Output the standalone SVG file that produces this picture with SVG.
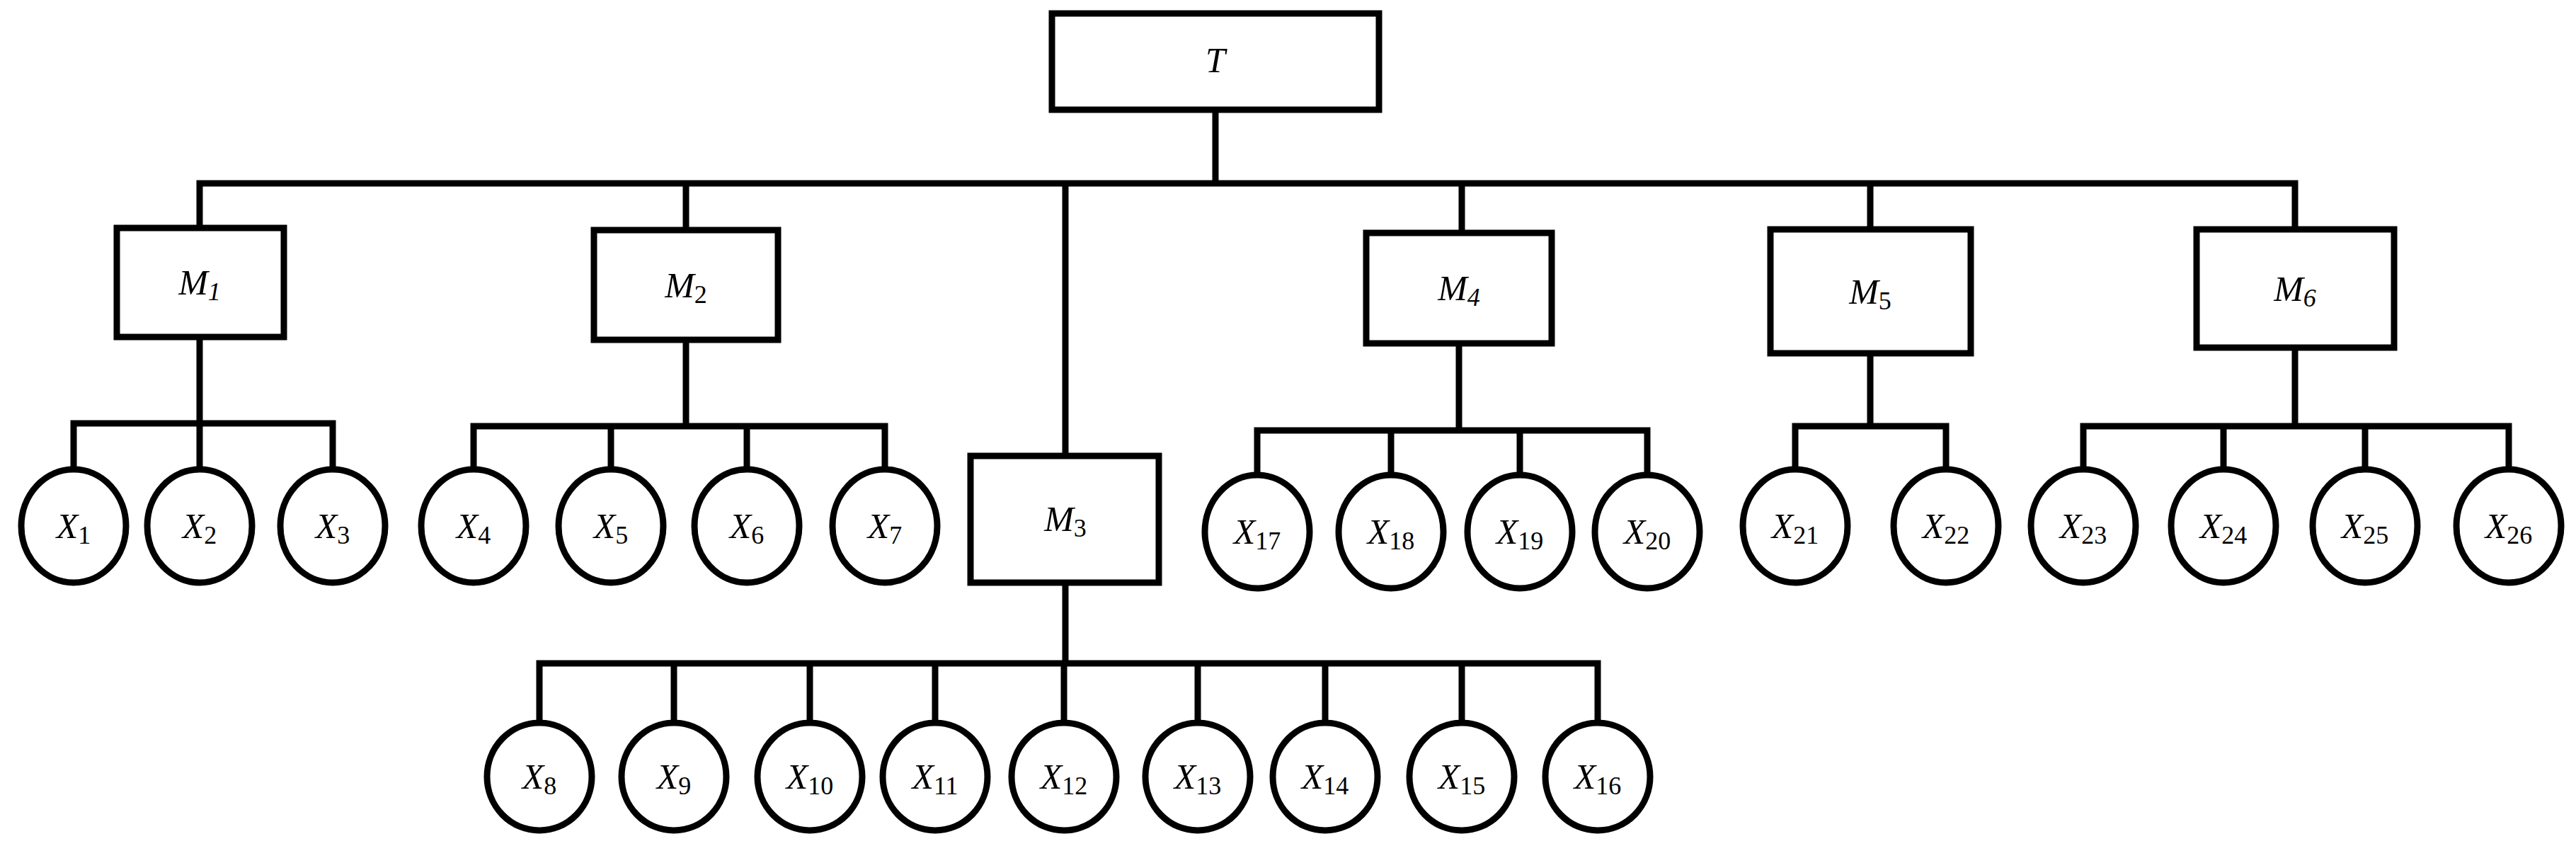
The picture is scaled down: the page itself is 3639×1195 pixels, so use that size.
<svg xmlns="http://www.w3.org/2000/svg" width="3639" height="1195" viewBox="0 0 3639 1195">
<style>
.b{fill:#fff;stroke:#000;stroke-width:9}
.c{fill:none;stroke:#000;stroke-width:9;stroke-linecap:square}
.t{font-family:"Liberation Serif",serif;font-size:50px;font-style:italic;text-anchor:middle}
.s{font-size:36px;font-style:normal}
.si{font-size:36px;font-style:italic}
</style>
<g id="connectors" class="c">
<path d="M1717 155V259M282 259H3242M282 259V322M969 259V325M1505 259V644M2065 259V329M2642 259V324M3242 259V324"/>
<path d="M282 476V598M104 598H470M104 598V663M282 598V663M470 598V663"/>
<path d="M969 480V602M669 602H1250M669 602V663M863 602V663M1055 602V663M1250 602V663"/>
<path d="M1505 823V937M762 937H2257M762 937V1021M952 937V1021M1144 937V1021M1321 937V1021M1503 937V1021M1692 937V1021M1872 937V1021M2065 937V1021M2257 937V1021"/>
<path d="M2061 485V608M1776 608H2327M1776 608V671M1965 608V671M2147 608V671M2327 608V671"/>
<path d="M2642 499V602M2536 602H2749M2536 602V663M2749 602V663"/>
<path d="M3242 491V602M2943 602H3544M2943 602V663M3141 602V663M3341 602V663M3544 602V663"/>
</g>
<g id="T"><rect class="b" x="1486" y="19" width="462" height="136"/><text class="t" x="1717" y="102">T</text></g>
<g id="M1"><rect class="b" x="165" y="322" width="236" height="154"/><text class="t" x="282" y="416">M<tspan class="si" dy="8">1</tspan></text></g>
<g id="M2"><rect class="b" x="839" y="325" width="260" height="155"/><text class="t" x="969" y="420">M<tspan class="s" dy="8">2</tspan></text></g>
<g id="M3"><rect class="b" x="1371" y="644" width="266" height="179"/><text class="t" x="1505" y="750">M<tspan class="s" dy="8">3</tspan></text></g>
<g id="M4"><rect class="b" x="1930" y="329" width="262" height="156"/><text class="t" x="2061" y="424">M<tspan class="si" dy="8">4</tspan></text></g>
<g id="M5"><rect class="b" x="2501" y="324" width="283" height="175"/><text class="t" x="2642" y="429">M<tspan class="s" dy="8">5</tspan></text></g>
<g id="M6"><rect class="b" x="3103" y="324" width="279" height="167"/><text class="t" x="3242" y="425">M<tspan class="si" dy="8">6</tspan></text></g>
<g id="X1"><ellipse class="b" cx="104" cy="743" rx="74" ry="80"/><text class="t" x="104" y="760">X<tspan class="s" dy="8">1</tspan></text></g>
<g id="X2"><ellipse class="b" cx="282" cy="743" rx="74" ry="80"/><text class="t" x="282" y="760">X<tspan class="s" dy="8">2</tspan></text></g>
<g id="X3"><ellipse class="b" cx="470" cy="743" rx="74" ry="80"/><text class="t" x="470" y="760">X<tspan class="s" dy="8">3</tspan></text></g>
<g id="X4"><ellipse class="b" cx="669" cy="743" rx="74" ry="80"/><text class="t" x="669" y="760">X<tspan class="s" dy="8">4</tspan></text></g>
<g id="X5"><ellipse class="b" cx="863" cy="743" rx="74" ry="80"/><text class="t" x="863" y="760">X<tspan class="s" dy="8">5</tspan></text></g>
<g id="X6"><ellipse class="b" cx="1055" cy="743" rx="74" ry="80"/><text class="t" x="1055" y="760">X<tspan class="s" dy="8">6</tspan></text></g>
<g id="X7"><ellipse class="b" cx="1250" cy="743" rx="74" ry="80"/><text class="t" x="1250" y="760">X<tspan class="s" dy="8">7</tspan></text></g>
<g id="X8"><ellipse class="b" cx="762" cy="1097" rx="74" ry="76"/><text class="t" x="762" y="1114">X<tspan class="s" dy="8">8</tspan></text></g>
<g id="X9"><ellipse class="b" cx="952" cy="1097" rx="74" ry="76"/><text class="t" x="952" y="1114">X<tspan class="s" dy="8">9</tspan></text></g>
<g id="X10"><ellipse class="b" cx="1144" cy="1097" rx="74" ry="76"/><text class="t" x="1144" y="1114">X<tspan class="s" dy="8">10</tspan></text></g>
<g id="X11"><ellipse class="b" cx="1321" cy="1097" rx="74" ry="76"/><text class="t" x="1321" y="1114">X<tspan class="s" dy="8">11</tspan></text></g>
<g id="X12"><ellipse class="b" cx="1503" cy="1097" rx="74" ry="76"/><text class="t" x="1503" y="1114">X<tspan class="s" dy="8">12</tspan></text></g>
<g id="X13"><ellipse class="b" cx="1692" cy="1097" rx="74" ry="76"/><text class="t" x="1692" y="1114">X<tspan class="s" dy="8">13</tspan></text></g>
<g id="X14"><ellipse class="b" cx="1872" cy="1097" rx="74" ry="76"/><text class="t" x="1872" y="1114">X<tspan class="s" dy="8">14</tspan></text></g>
<g id="X15"><ellipse class="b" cx="2065" cy="1097" rx="74" ry="76"/><text class="t" x="2065" y="1114">X<tspan class="s" dy="8">15</tspan></text></g>
<g id="X16"><ellipse class="b" cx="2257" cy="1097" rx="74" ry="76"/><text class="t" x="2257" y="1114">X<tspan class="s" dy="8">16</tspan></text></g>
<g id="X17"><ellipse class="b" cx="1776" cy="751" rx="74" ry="80"/><text class="t" x="1776" y="768">X<tspan class="s" dy="8">17</tspan></text></g>
<g id="X18"><ellipse class="b" cx="1965" cy="751" rx="74" ry="80"/><text class="t" x="1965" y="768">X<tspan class="s" dy="8">18</tspan></text></g>
<g id="X19"><ellipse class="b" cx="2147" cy="751" rx="74" ry="80"/><text class="t" x="2147" y="768">X<tspan class="s" dy="8">19</tspan></text></g>
<g id="X20"><ellipse class="b" cx="2327" cy="751" rx="74" ry="80"/><text class="t" x="2327" y="768">X<tspan class="s" dy="8">20</tspan></text></g>
<g id="X21"><ellipse class="b" cx="2536" cy="743" rx="74" ry="80"/><text class="t" x="2536" y="760">X<tspan class="s" dy="8">21</tspan></text></g>
<g id="X22"><ellipse class="b" cx="2749" cy="743" rx="74" ry="80"/><text class="t" x="2749" y="760">X<tspan class="s" dy="8">22</tspan></text></g>
<g id="X23"><ellipse class="b" cx="2943" cy="743" rx="74" ry="80"/><text class="t" x="2943" y="760">X<tspan class="s" dy="8">23</tspan></text></g>
<g id="X24"><ellipse class="b" cx="3141" cy="743" rx="74" ry="80"/><text class="t" x="3141" y="760">X<tspan class="s" dy="8">24</tspan></text></g>
<g id="X25"><ellipse class="b" cx="3341" cy="743" rx="74" ry="80"/><text class="t" x="3341" y="760">X<tspan class="s" dy="8">25</tspan></text></g>
<g id="X26"><ellipse class="b" cx="3544" cy="743" rx="74" ry="80"/><text class="t" x="3544" y="760">X<tspan class="s" dy="8">26</tspan></text></g>
</svg>
